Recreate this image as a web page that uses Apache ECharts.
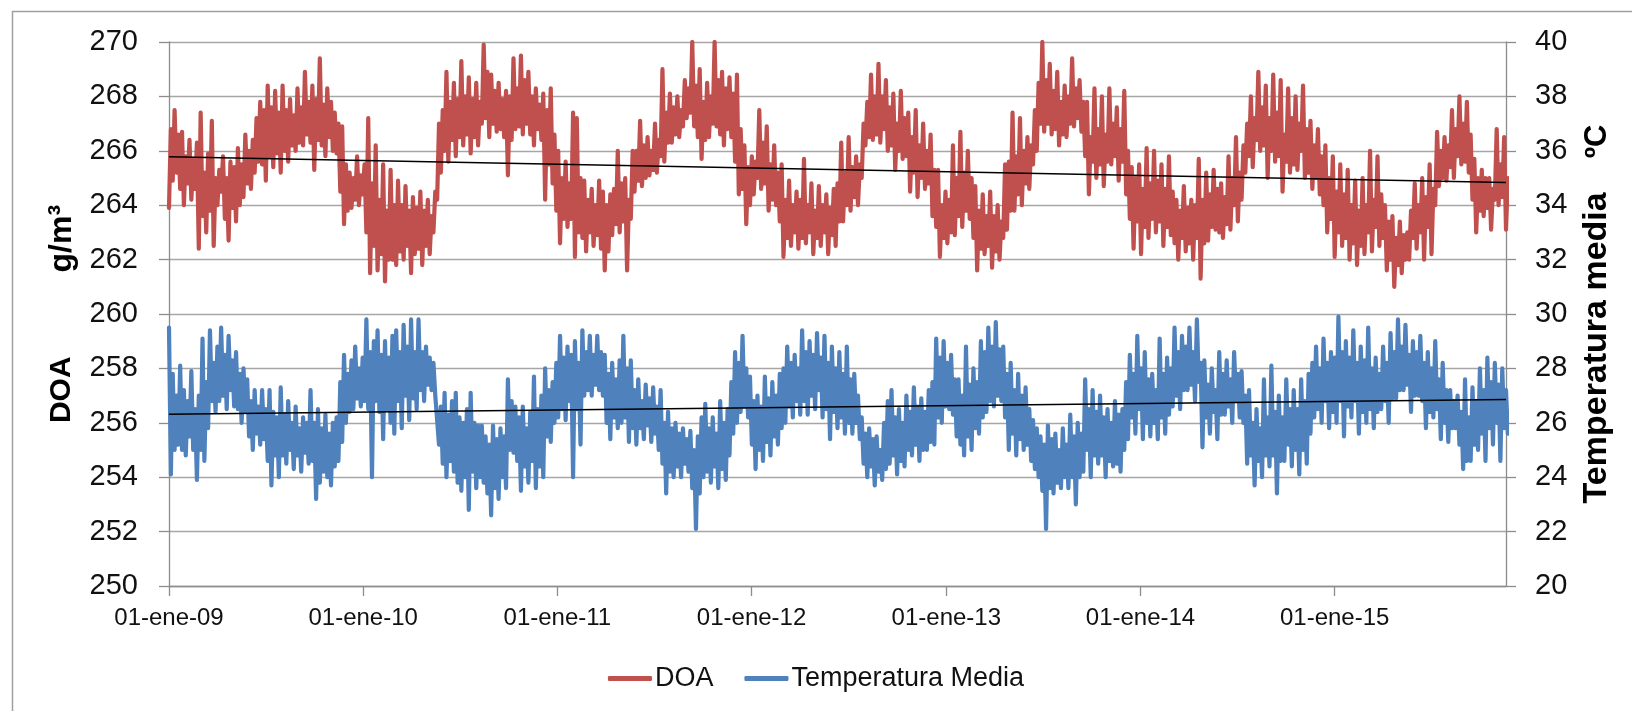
<!DOCTYPE html>
<html><head><meta charset="utf-8">
<script src="https://cdn.jsdelivr.net/npm/echarts@6/dist/echarts.min.js"></script>
<style>html,body{margin:0;padding:0;background:#fff}#c{width:1632px;height:711px}</style>
</head><body><div id="c"></div>
<script>
// Samples every 3.5 days, starting 01-ene-2009
const startDate = '2009-01-01';
const stepDays = 3.5;
const doa = [
263.9,266.8,264.9,267.5,265.2,266.6,264.6,266.7,264.0,265.8,264.8,266.4,264.2,265.7,264.6,266.3,262.4,267.4,263.6,265.2,
263.0,265.9,263.8,267.1,262.5,265.0,264.0,265.3,264.5,265.8,263.5,265.0,262.7,265.6,263.9,265.4,263.4,266.1,264.0,265.5,
264.3,266.6,264.8,266.0,264.6,266.4,265.2,267.2,265.6,267.8,265.5,267.5,264.9,268.4,265.8,267.6,265.4,268.2,265.9,267.4,
265.2,268.4,266.0,267.5,265.6,267.9,266.2,267.3,266.0,268.3,266.3,267.6,266.2,268.9,266.6,267.8,266.3,268.4,265.3,267.9,
266.4,269.4,266.2,267.7,265.8,268.3,266.5,267.8,266.0,267.4,265.9,267.0,264.5,266.9,263.3,265.5,263.8,265.2,263.9,265.0,
264.2,265.8,264.0,265.1,264.4,265.5,263.0,267.2,261.5,264.8,262.5,266.2,261.6,264.2,262.2,265.5,261.2,263.8,262.0,265.3,
262.0,264.0,261.8,264.9,262.3,264.0,262.0,264.7,262.5,263.8,261.5,264.3,262.2,263.9,262.4,264.5,261.8,263.8,262.5,264.2,
262.2,263.6,263.0,264.5,264.2,267.0,265.2,267.5,266.0,268.9,265.6,267.8,266.4,268.5,265.8,267.9,266.5,269.3,266.2,268.0,
266.6,268.7,265.9,267.9,266.5,268.5,266.2,267.8,267.0,269.9,267.2,268.9,266.5,268.8,267.0,268.2,266.7,268.5,266.8,267.9,
266.5,268.2,265.1,268.0,266.4,269.4,266.8,268.3,266.9,269.5,266.6,268.6,267.0,268.9,266.6,268.0,266.2,268.3,266.8,267.7,
266.4,268.1,264.2,267.5,265.5,268.3,264.8,266.6,263.8,266.0,262.6,265.0,263.5,265.6,263.2,264.8,263.5,267.4,262.1,267.2,
263.0,265.0,262.8,264.9,262.3,264.2,263.0,264.6,262.5,264.0,262.9,264.9,262.4,264.5,261.6,264.0,262.3,264.4,262.9,264.6,
263.3,266.0,263.0,264.8,263.4,265.0,261.6,264.2,263.5,266.0,264.5,266.0,264.9,267.1,264.7,266.2,265.0,266.5,265.1,266.0,
265.3,267.0,265.2,266.4,265.8,269.0,265.6,267.4,266.3,268.1,266.3,267.6,266.6,268.0,266.5,267.5,266.9,268.6,267.2,268.3,
267.4,270.0,266.9,268.4,266.5,269.0,265.7,267.8,266.4,268.5,266.5,268.0,267.0,270.0,266.9,268.6,266.6,268.9,266.2,268.3,
266.8,268.7,266.5,268.1,265.6,268.8,264.4,266.8,264.6,266.2,263.3,265.4,264.0,265.8,264.4,265.6,265.0,267.5,264.6,266.3,
264.8,266.9,263.8,265.5,264.2,266.2,264.0,265.2,263.4,265.5,262.1,264.2,262.8,264.9,262.5,264.0,263.0,264.5,262.4,264.2,
262.8,265.7,262.6,264.0,263.0,264.8,262.2,263.8,262.8,264.7,262.5,264.0,263.0,264.4,262.2,263.9,262.9,264.6,262.5,264.8,
263.4,266.3,263.4,265.2,264.0,266.5,263.8,265.4,264.3,265.8,264.0,265.5,265.0,267.0,266.2,267.8,266.5,268.8,266.4,268.0,
266.6,269.2,266.3,268.0,266.8,268.6,266.0,267.6,266.2,268.1,265.3,267.0,266.0,268.2,265.7,267.2,265.8,267.4,264.5,266.5,
265.2,267.5,264.3,266.2,265.0,267.0,264.6,266.0,264.8,266.6,263.6,265.3,263.2,265.3,262.1,264.0,262.8,264.5,262.6,264.2,
263.0,266.2,262.9,265.0,263.6,266.7,263.2,265.2,263.8,266.0,263.5,265.0,262.8,264.7,261.6,263.8,262.4,264.4,262.2,263.6,
262.5,264.5,261.7,263.6,262.3,264.0,262.0,263.4,262.8,265.5,263.1,265.6,263.8,267.4,263.8,265.8,264.4,267.2,264.0,266.0,
264.8,266.5,264.6,266.2,265.5,267.5,266.0,268.5,267.0,270.0,266.7,268.6,267.0,269.2,266.6,268.2,266.8,268.9,266.2,267.8,
266.6,268.4,266.5,268.0,267.0,269.4,266.9,268.3,267.2,268.6,266.7,267.8,265.8,267.8,264.4,266.5,265.6,268.3,265.0,266.8,
265.5,268.0,264.7,266.6,265.6,268.3,265.5,267.0,265.8,267.6,264.9,266.8,265.6,268.2,264.4,266.0,263.5,265.4,262.4,265.0,
263.4,265.5,262.2,264.6,263.2,266.1,262.8,264.8,263.5,266.0,263.0,264.9,263.4,265.5,262.5,264.6,263.2,265.8,262.9,264.5,
262.6,264.2,262.0,263.8,262.8,264.7,262.3,263.9,262.6,264.2,262.0,264.0,262.8,265.7,261.3,264.2,262.6,265.2,262.7,264.4,
263.2,265.3,263.1,264.6,263.0,264.8,262.8,264.3,263.3,265.8,263.1,265.0,264.0,266.5,263.4,265.2,264.2,266.2,265.2,267.0,
265.8,268.0,265.4,267.2,266.4,268.9,266.0,267.6,266.2,268.4,265.0,267.2,266.0,268.8,265.6,267.4,265.8,268.6,264.5,266.6,
265.6,268.3,265.2,267.2,265.5,268.0,265.3,267.0,266.0,268.4,265.0,266.8,265.2,267.1,264.6,266.2,265.0,266.8,264.4,265.8,
264.0,266.2,263.0,265.0,263.5,265.8,262.1,264.5,263.0,265.5,262.5,264.4,262.8,265.3,262.0,264.0,262.6,264.9,261.8,263.8,
262.5,265.0,262.2,264.0,263.0,266.0,262.3,264.2,263.2,265.8,262.5,264.4,262.8,264.0,261.6,263.4,262.0,263.6,261.0,262.8,
261.8,263.4,261.5,262.9,262.0,263.0,262.0,263.8,262.8,264.8,262.4,264.0,263.0,265.0,262.0,264.3,263.2,265.5,262.2,264.6,
264.0,266.7,264.7,266.0,265.0,266.5,264.9,266.2,265.4,267.5,265.0,266.8,265.8,268.0,265.5,267.0,265.6,267.8,265.2,266.6,
264.2,265.7,263.0,265.0,263.8,265.3,263.6,265.0,263.9,265.0,263.1,264.6,264.2,266.8,264.0,265.5,264.3,266.5,263.1,265.0
];
const temp = [
29.5,24.1,27.8,25.0,27.0,25.2,28.1,25.0,27.2,24.8,26.8,25.5,27.9,25.0,26.5,23.9,27.0,25.0,29.1,24.6,
27.5,25.8,29.4,26.8,28.2,26.4,28.8,26.8,29.5,27.0,28.5,26.5,29.2,27.2,28.3,26.6,28.6,26.5,27.8,26.0,
28.0,26.4,27.6,25.5,26.8,25.0,27.2,25.6,26.6,25.2,27.2,25.4,26.5,24.6,27.2,23.7,26.4,24.8,26.2,24.0,
27.3,24.8,26.3,24.5,26.8,25.0,26.0,24.3,26.6,24.8,25.8,24.2,26.2,24.9,26.0,24.5,27.2,24.6,26.0,23.2,
26.5,23.8,25.8,24.2,26.3,24.0,25.6,23.7,26.0,24.4,26.2,24.6,27.5,25.3,28.5,26.0,27.8,26.4,28.3,26.5,
28.8,26.9,28.0,26.6,28.4,26.8,29.8,26.5,28.6,24.0,29.0,26.8,29.4,26.4,28.5,25.4,29.0,26.5,28.4,26.0,
29.2,25.6,29.4,26.8,28.6,25.8,29.6,27.0,28.8,26.1,29.8,26.9,28.6,26.5,29.8,27.2,28.6,26.8,28.8,27.4,
28.4,27.2,28.2,27.0,27.0,25.2,26.6,24.5,27.1,24.0,26.3,24.6,26.8,24.2,27.1,23.8,26.2,23.5,26.0,24.0,
26.5,22.8,27.1,24.2,26.0,23.6,25.9,24.0,25.9,23.8,25.5,23.4,25.2,22.6,25.9,23.6,25.4,23.2,25.8,24.0,
25.5,23.6,27.6,25.0,26.8,24.9,26.6,24.6,26.2,23.5,26.6,24.4,25.8,23.8,26.4,24.6,27.7,23.6,26.5,24.4,
27.0,24.0,28.0,25.5,27.2,25.3,27.5,26.0,28.2,26.2,29.2,26.5,28.4,26.1,28.8,26.8,28.5,24.0,29.0,26.5,
28.2,25.2,29.4,27.0,28.6,27.2,29.2,27.0,28.5,27.4,29.2,27.2,28.6,27.0,28.5,26.0,27.8,25.4,28.2,26.2,
27.6,25.8,28.3,26.0,29.2,26.2,28.0,25.3,28.3,25.8,27.2,25.2,27.6,25.8,26.8,25.4,27.4,25.9,26.9,25.3,
27.3,25.6,26.6,25.0,27.2,24.5,26.0,23.4,26.4,24.2,25.8,24.0,26.0,24.4,25.6,24.0,25.8,24.5,25.4,24.2,
25.7,23.6,25.0,22.1,25.5,23.4,26.2,24.0,26.7,24.2,25.8,23.8,26.2,24.4,25.6,23.6,26.8,24.3,26.0,23.9,
26.5,24.8,27.5,25.6,28.6,26.0,28.2,26.4,29.2,26.6,28.0,26.2,27.7,25.2,26.8,24.3,27.0,25.0,26.6,24.6,
27.7,25.3,26.9,24.8,27.5,25.5,27.0,25.2,27.8,25.8,28.0,26.0,28.8,26.6,28.2,26.2,28.5,26.8,28.0,26.3,
29.4,26.8,28.6,26.3,29.0,27.0,28.5,26.5,29.3,27.2,28.4,26.2,29.2,26.5,28.2,25.4,28.8,26.4,28.0,25.8,
28.6,26.2,27.8,25.6,28.8,26.0,27.6,25.6,27.8,26.0,27.0,25.4,26.2,24.5,25.6,24.0,25.8,24.4,25.4,23.7,
25.5,24.2,25.0,23.9,26.0,24.3,26.8,24.5,27.2,24.8,26.2,24.1,26.5,24.6,26.0,24.4,27.0,25.0,26.4,24.8,
27.3,25.2,26.6,24.6,26.9,25.0,26.4,25.0,27.2,25.3,27.5,25.2,29.1,26.2,28.4,26.0,29.0,26.6,28.2,26.5,
28.5,26.3,27.6,25.5,27.6,25.2,27.0,24.8,28.8,25.5,27.4,25.0,28.0,25.8,27.5,25.6,29.0,26.2,28.6,26.4,
29.5,26.8,28.8,26.6,29.7,27.0,28.7,26.8,28.8,26.2,27.8,25.0,28.2,25.6,27.2,24.8,27.8,25.4,27.0,25.0,
27.3,25.2,26.5,24.6,26.1,24.3,25.8,24.0,25.5,23.5,25.2,22.1,25.9,23.6,25.4,23.4,25.6,23.8,25.0,23.6,
25.8,24.0,25.2,23.6,26.3,24.0,25.5,23.0,26.0,24.0,25.6,24.2,27.6,25.0,26.5,24.0,27.2,24.8,26.4,24.5,
27.0,24.8,26.2,24.0,26.5,24.6,26.0,24.4,26.8,24.5,26.3,24.2,26.5,25.0,27.5,25.4,28.5,26.2,27.8,25.6,
29.2,26.5,28.0,25.4,28.6,26.0,27.6,25.5,27.8,26.0,27.2,25.4,29.1,26.2,27.8,25.6,28.4,26.3,28.0,26.6,
29.5,27.0,28.6,26.5,29.2,27.2,28.8,27.2,29.5,27.4,28.6,26.8,29.8,27.5,28.2,25.1,28.3,26.2,27.4,25.6,
28.0,26.4,27.2,25.4,28.6,26.3,27.8,26.3,28.3,26.6,27.6,26.0,28.6,26.8,27.8,26.2,27.9,26.0,27.0,24.5,
27.2,24.8,26.0,23.7,26.5,24.6,25.8,24.0,27.6,24.8,26.2,24.4,28.1,24.8,26.4,23.4,27.0,24.6,26.2,24.6,
27.6,25.2,26.5,24.4,27.2,25.0,26.5,24.1,27.6,25.0,26.8,24.5,27.8,25.6,28.2,26.2,28.8,26.5,28.0,26.0,
29.1,26.8,28.2,25.8,28.6,26.4,28.4,26.0,29.9,26.8,28.6,25.5,29.0,26.6,28.4,26.2,29.4,26.8,28.2,25.6,
28.8,26.4,28.3,26.0,29.5,26.5,28.0,25.8,28.4,26.4,27.8,26.5,28.8,26.8,28.2,26.0,29.3,26.9,28.6,26.9,
29.8,27.2,28.8,27.2,29.6,27.4,28.5,26.4,29.0,27.0,28.6,27.0,29.2,26.8,28.2,25.8,28.6,26.4,28.0,26.2,
29.0,26.5,27.6,25.4,28.2,26.0,27.2,25.3,27.2,25.8,26.8,25.8,27.0,25.2,26.4,24.3,27.6,24.6,26.2,24.6,
27.3,25.2,26.8,25.0,28.0,25.6,27.2,24.6,28.4,25.8,27.5,25.2,28.2,26.0,27.4,24.6,28.0,25.8,27.2,25.6
];
// Linear trend lines (endpoints)
const trendDays = [0, 2513];
const doaTrend = [265.78, 264.83];
const tempTrend = [26.31, 26.86];
// X axis ticks (days since startDate) and their labels
const xTickDays = [0, 365, 730, 1095, 1461, 1826, 2191];
const xTickLabels = ['01-ene-09','01-ene-10','01-ene-11','01-ene-12','01-ene-13','01-ene-14','01-ene-15'];
const xMaxDays = 2513;

const F = '"Liberation Sans", Arial, sans-serif';
const AX = '#8c8c8c';
const TXT = '#111';

const doaData = doa.map((v, i) => [i * stepDays, v]);
const tempData = temp.map((v, i) => [i * stepDays, v]);
const doaTrendData = trendDays.map((d, i) => [d, doaTrend[i]]);
const tempTrendData = trendDays.map((d, i) => [d, tempTrend[i]]);

const chart = echarts.init(document.getElementById('c'), null, {renderer: 'canvas'});
chart.setOption({
  animation: false,
  grid: {left: 169, top: 42, width: 1337, height: 544, containLabel: false},
  graphic: [{
    type: 'rect', silent: true, z: -10,
    shape: {x: 12.5, y: 11.5, width: 1700, height: 800},
    style: {fill: null, stroke: '#a0a0a0', lineWidth: 1.5}
  }],
  legend: {
    data: ['DOA', 'Temperatura Media'],
    left: 'center', top: 660,
    icon: 'roundRect', itemWidth: 44, itemHeight: 5, itemGap: 31,
    textStyle: {fontFamily: F, fontSize: 27, color: TXT, padding: [0, 0, 0, -2]}
  },
  xAxis: {
    type: 'value', min: 0, max: xMaxDays,
    axisLine: {show: true, lineStyle: {color: AX, width: 1.3}},
    axisTick: {show: true, customValues: xTickDays, length: 10, lineStyle: {color: AX, width: 1.3}},
    axisLabel: {
      customValues: xTickDays,
      formatter: v => xTickLabels[xTickDays.indexOf(v)] || '',
      fontFamily: F, fontSize: 24, color: TXT, margin: 20
    },
    splitLine: {show: false}
  },
  yAxis: [{
    type: 'value', min: 250, max: 270, interval: 2, position: 'left',
    axisLine: {show: true, lineStyle: {color: AX, width: 1.3}},
    axisTick: {show: true, length: 10, lineStyle: {color: AX, width: 1.3}},
    axisLabel: {fontFamily: F, fontSize: 29, color: TXT, margin: 31},
    splitLine: {show: true, lineStyle: {color: '#a6a6a6', width: 1.3}},
    name: '{a|DOA}{g| }{b|g/m³}',
    nameLocation: 'middle', nameRotate: 90, nameGap: 89,
    nameTextStyle: {rich: {
      a: {fontFamily: F, fontWeight: 'bold', fontSize: 30, color: '#000', lineHeight: 36},
      g: {fontFamily: F, fontSize: 30, width: 84, lineHeight: 36},
      b: {fontFamily: F, fontWeight: 'bold', fontSize: 32, color: '#000', lineHeight: 36}
    }}
  }, {
    type: 'value', min: 20, max: 40, interval: 2, position: 'right',
    axisLine: {show: true, lineStyle: {color: AX, width: 1.3}},
    axisTick: {show: true, length: 10, lineStyle: {color: AX, width: 1.3}},
    axisLabel: {fontFamily: F, fontSize: 29, color: TXT, margin: 29},
    splitLine: {show: false},
    name: '{t|Temperatura media}{g| }{c|ºC}',
    nameLocation: 'middle', nameRotate: 90, nameGap: 73,
    nameTextStyle: {rich: {
      t: {fontFamily: F, fontWeight: 'bold', fontSize: 34, color: '#000', lineHeight: 36},
      g: {fontFamily: F, fontSize: 30, width: 34, lineHeight: 36},
      c: {fontFamily: F, fontWeight: 'bold', fontSize: 31, color: '#000', lineHeight: 36}
    }}
  }],
  series: [{
    name: 'DOA', type: 'line', yAxisIndex: 0, data: doaData,
    showSymbol: false, symbol: 'none', color: '#C0504D',
    lineStyle: {width: 4.2, color: '#C0504D', join: 'round', cap: 'round'}, z: 2
  }, {
    name: 'Temperatura Media', type: 'line', yAxisIndex: 1, data: tempData,
    showSymbol: false, symbol: 'none', color: '#4F81BD',
    lineStyle: {width: 4.2, color: '#4F81BD', join: 'round', cap: 'round'}, z: 2
  }, {
    name: 'Lineal (DOA)', type: 'line', yAxisIndex: 0, data: doaTrendData,
    showSymbol: false, symbol: 'none', color: '#000',
    lineStyle: {width: 1.5, color: '#000'}, z: 3
  }, {
    name: 'Lineal (Temperatura Media)', type: 'line', yAxisIndex: 1, data: tempTrendData,
    showSymbol: false, symbol: 'none', color: '#000',
    lineStyle: {width: 1.5, color: '#000'}, z: 3
  }]
});
</script>
</body></html>
